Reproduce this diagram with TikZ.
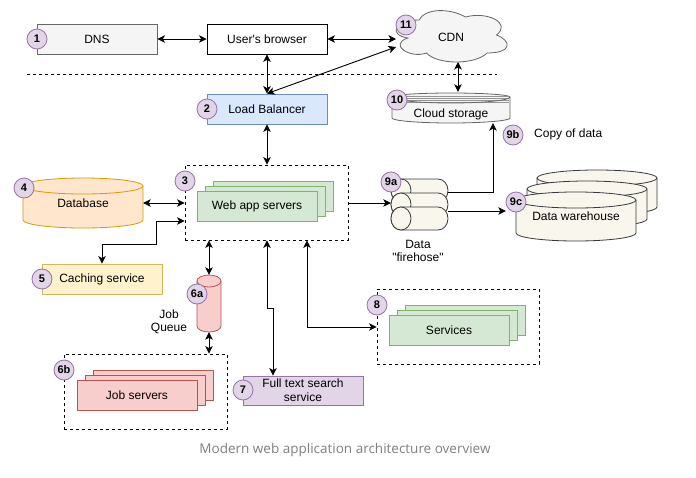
\documentclass[tikz,border=0pt]{standalone}
\usepackage{fontspec}
\setmainfont{Liberation Sans}[Ligatures=TeXOff]
\newfontfamily\capfont{Open Sans}
\usetikzlibrary{arrows.meta,calc}
\definecolor{grayF}{HTML}{F5F5F5}
\definecolor{grayD}{HTML}{666666}
\definecolor{blueF}{HTML}{DAE8FC}
\definecolor{blueD}{HTML}{6C8EBF}
\definecolor{greenF}{HTML}{D5E8D4}
\definecolor{greenD}{HTML}{82B366}
\definecolor{orangeF}{HTML}{FFE6CC}
\definecolor{orangeD}{HTML}{D79B00}
\definecolor{yellowF}{HTML}{FFF2CC}
\definecolor{yellowD}{HTML}{D6B656}
\definecolor{redF}{HTML}{F8CECC}
\definecolor{redD}{HTML}{B85450}
\definecolor{purpF}{HTML}{E1D5E7}
\definecolor{purpD}{HTML}{9673A6}
\definecolor{creamF}{HTML}{F9F7ED}
\definecolor{creamD}{HTML}{36393D}
\definecolor{capC}{HTML}{808080}
\newcommand{\vcyl}[6]{%
  \pgfmathsetmacro\cylrx{(#3-#1)/2}%
  \draw[#6] (#1,#2+#5) -- (#1,#4-#5) arc[start angle=180,end angle=0,x radius=\cylrx,y radius=#5]
     -- (#3,#2+#5) arc[start angle=0,end angle=-180,x radius=\cylrx,y radius=#5] -- cycle;
  \draw[#6,fill=none] (#1,#2+#5) arc[start angle=180,end angle=0,x radius=\cylrx,y radius=#5];
}
\newcommand{\hcyl}[6]{%
  \pgfmathsetmacro\cylry{(#4-#2)/2}%
  \draw[#6] (#1+#5,#2) -- (#3-#5,#2) arc[start angle=-90,end angle=90,x radius=#5,y radius=\cylry]
     -- (#1+#5,#4) arc[start angle=90,end angle=270,x radius=#5,y radius=\cylry] -- cycle;
  \draw[#6] (#1+#5,#2+\cylry) ellipse[x radius=#5,y radius=\cylry];
}
\tikzset{
  box/.style={draw, minimum width=120pt, minimum height=30pt, inner sep=0pt,
    font=\fontsize{12}{14}\selectfont, line width=0.8pt},
  numc/.style={circle, draw=purpD, fill=purpF, minimum size=20pt, inner sep=0pt,
    font=\fontsize{11}{11}\selectfont\bfseries, line width=0.8pt},
  dbox/.style={draw, dash pattern=on 3pt off 3pt, line width=0.8pt, inner sep=0pt, fill=none},
  lbl/.style={inner sep=0pt, font=\fontsize{12}{14}\selectfont, align=center},
  shp/.style={line width=0.8pt},
  conn/.style={line width=0.9pt, {Stealth[length=7.5pt,width=7.5pt,inset=2pt]}-{Stealth[length=7.5pt,width=7.5pt,inset=2pt]}},
  conn1/.style={line width=0.9pt, -{Stealth[length=7.5pt,width=7.5pt,inset=2pt]}}
}
\begin{document}
\begin{tikzpicture}[x=1pt,y=-1pt]
\useasboundingbox (0,0) rectangle (696,477);
\fill[white] (0,0) rectangle (696,477);

% top row
\node[box, fill=grayF, draw=grayD] (dns) at (97,39) {DNS};
\node[box, fill=white, draw=black] (browser) at (267,39) {User's browser};
\node[box, fill=blueF, draw=blueD] (lb) at (267,109) {Load Balancer};
\draw[dash pattern=on 3pt off 3pt, line width=0.8pt] (27,74) -- (497,74);

% CDN cloud
\begin{scope}[shift={(388,5)}, x=124pt, y=-60pt]
\draw[shp, fill=grayF, draw=grayD] (0.25,0.25) .. controls (0.05,0.25) and (0,0.5) .. (0.16,0.55)
  .. controls (0,0.66) and (0.18,0.9) .. (0.31,0.8)
  .. controls (0.4,1) and (0.7,1) .. (0.8,0.8)
  .. controls (1,0.8) and (1,0.6) .. (0.875,0.5)
  .. controls (1,0.3) and (0.8,0.1) .. (0.625,0.2)
  .. controls (0.5,0.05) and (0.3,0.05) .. (0.25,0.25) -- cycle;
\end{scope}
\node[lbl] (cdn) at (451,37) {CDN};
\coordinate (cdnA) at (396,47);
\coordinate (cdnB) at (396,39);
\coordinate (cdnS) at (458,62);

% Cloud storage
\draw[shp, fill=grayF, draw=grayD] (392,97) arc[start angle=180,end angle=360,x radius=59,y radius=4]
  -- (510,118) arc[start angle=0,end angle=180,x radius=59,y radius=5] -- cycle;
\foreach \yy in {96,98,100,102}
  \draw[line width=0.5pt, draw=grayD!70] (393,\yy) -- (509,\yy);
\draw[shp, draw=grayD] (392,97) arc[start angle=180,end angle=0,x radius=59,y radius=6];
\node[inner sep=0pt, minimum width=118pt, minimum height=31pt] (cs) at (451,107.5) {};
\node[lbl] (cstext) at (451,114) {Cloud storage};

% Web app box
\node[dbox, minimum width=163pt, minimum height=75pt] (web) at (266.5,202.5) {};
\draw[shp, fill=greenF, draw=greenD] (213,181) rectangle (333,211);
\draw[shp, fill=greenF, draw=greenD] (205,186) rectangle (325,216);
\node[box, fill=greenF, draw=greenD] (webfront) at (257,206) {Web app servers};

% Database
\vcyl{23}{178}{143}{228}{8}{shp, fill=orangeF, draw=orangeD}
\node[lbl, minimum width=120pt, minimum height=50pt] (db) at (83,203) {Database};

% Caching
\node[box, fill=yellowF, draw=yellowD] (cache) at (102,279) {Caching service};

% Job queue
\vcyl{197}{275}{221}{332}{6}{shp, fill=redF, draw=redD}
\node[inner sep=0pt, minimum width=24pt, minimum height=57pt] (queue) at (209,303.5) {};
\node[lbl] (qtext) at (169,322) {Job\\[-0.5pt]Queue};

% Job servers
\node[dbox, minimum width=163pt, minimum height=75pt] (jobbox) at (145.5,391.5) {};
\draw[shp, fill=redF, draw=redD] (93,370) rectangle (213,400);
\draw[shp, fill=redF, draw=redD] (85,375) rectangle (205,405);
\node[box, fill=redF, draw=redD] (jobfront) at (137,395) {Job servers};

% Full text search
\node[box, fill=purpF, draw=purpD, minimum height=29pt, align=center, font=\fontsize{12}{14}\selectfont] (fts) at (303,390.5) {Full text search\\service};

% Services
\node[dbox, minimum width=162pt, minimum height=75pt] (svcbox) at (458,326.5) {};
\draw[shp, fill=greenF, draw=greenD] (405,305) rectangle (525,335);
\draw[shp, fill=greenF, draw=greenD] (397,310) rectangle (517,340);
\node[box, fill=greenF, draw=greenD] (svcfront) at (449,330) {Services};

% Firehose
\hcyl{391}{179}{448}{202}{10}{shp, fill=creamF, draw=creamD}
\hcyl{391}{193}{448}{216}{10}{shp, fill=creamF, draw=creamD}
\hcyl{391}{207}{448}{230}{10}{shp, fill=creamF, draw=creamD}
\node[inner sep=0pt, minimum width=57pt, minimum height=51pt] (fh) at (419.5,204.5) {};
\node[lbl, font=\fontsize{12}{13}\selectfont] (fhtext) at (418,250.5) {Data\\"firehose"};

% Warehouse
\vcyl{537}{170}{657}{215}{8}{shp, fill=creamF, draw=creamD}
\vcyl{527}{181}{647}{227}{8}{shp, fill=creamF, draw=creamD}
\vcyl{516}{192}{636}{241}{8}{shp, fill=creamF, draw=creamD}
\node[lbl, minimum width=120pt, minimum height=49pt] (wh) at (576,216.5) {Data warehouse};

% Copy of data
\node[lbl, anchor=west] (copy) at (534,134) {Copy of data};

% connectors
\draw[conn] (dns.east) -- (browser.west);
\draw[conn] (browser.south) -- (lb.north);
\draw[conn] (lb.north) -- (cdnA);
\draw[conn] (browser.east) -- (cdnB);
\draw[conn] (cdnS) -- (cdnS |- cs.north);
\draw[conn] (lb.south) -- (lb.south |- web.north);
\draw[conn] (db.east) -- (web.west |- db.east);
\draw[conn] (web.west |- 0,221) -- (156,221) -- (156,244) -| (cache.north);
\draw[conn] (web.south -| queue.north) -- (queue.north);
\draw[conn] (queue.south) -- (queue.south |- jobbox.north);
\draw[conn] (web.south -| 267,0) -- (267,308) -- (273,308) -- (fts.north -| 273,0);
\draw[conn] (web.south -| 307,0) |- (svcbox.west |- 0,327);
\draw[conn1] (web.east |- 0,203) -- (fh.west |- 0,203);
\draw[conn1] (448,192) -| (cs.south -| 493,0);
\draw[conn1] (448,211) -- ([xshift=-10pt]wh.west |- 0,211);

% number circles
\node[numc] (n1) at (37,39) {1};
\node[numc] (n2) at (207,109) {2};
\node[numc] (n3) at (185,181) {3};
\node[numc] (n4) at (24,188) {4};
\node[numc] (n5) at (42,279) {5};
\node[numc] (n6a) at (197,294) {6a};
\node[numc] (n6b) at (64,370) {6b};
\node[numc] (n7) at (243,390) {7};
\node[numc] (n8) at (377,305) {8};
\node[numc] (n9a) at (391,182) {9a};
\node[numc] (n9b) at (513,135) {9b};
\node[numc] (n9c) at (516,202) {9c};
\node[numc] (n10) at (397,100) {10};
\node[numc] (n11) at (406,25) {11};

% caption
\node[inner sep=0pt, text=capC, font=\capfont\fontsize{13.5}{15}\selectfont] (cap) at (345,450) {Modern web application architecture overview};
\end{tikzpicture}
\end{document}
